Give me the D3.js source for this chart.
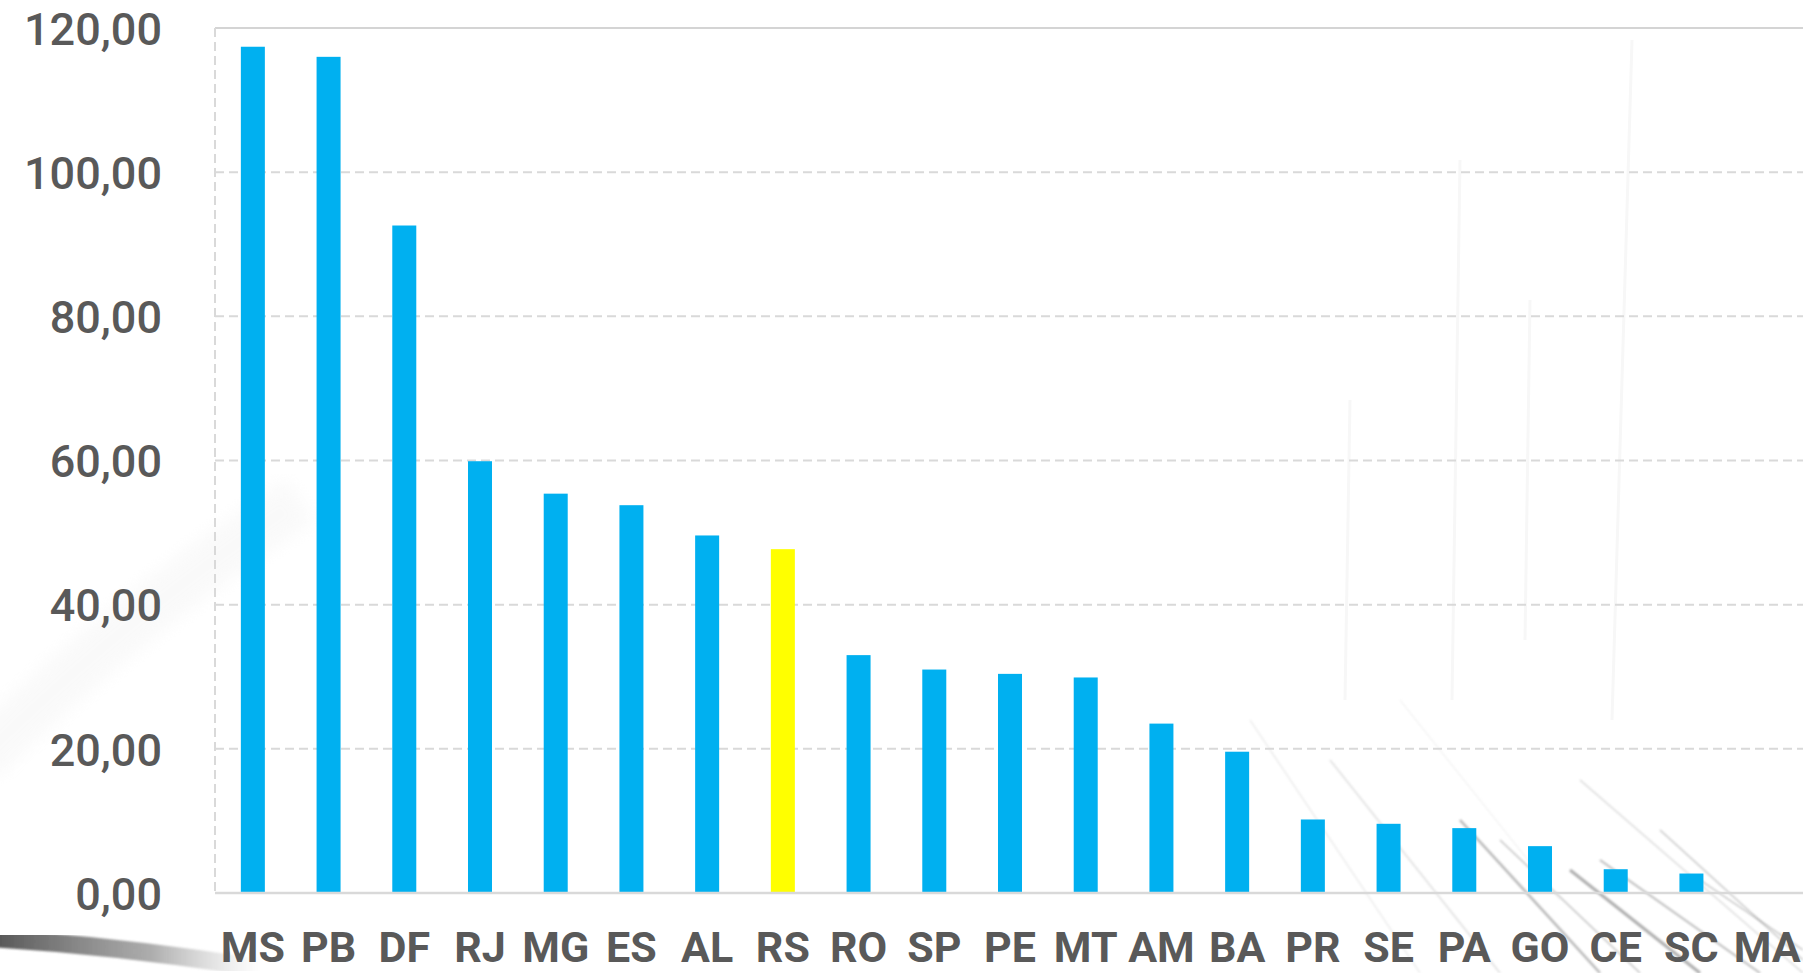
<!DOCTYPE html>
<html>
<head>
<meta charset="utf-8">
<script src="https://cdn.jsdelivr.net/npm/d3@7"></script>
<style>
  html, body { margin: 0; padding: 0; background: #ffffff; overflow: hidden; }
  svg { display: block; }
</style>
</head>
<body>
<div id="chart"></div>
<script>
// states, ordered as in the chart
const states = ["MS", "PB", "DF", "RJ", "MG", "ES", "AL", "RS", "RO", "SP", "PE",
  "MT", "AM", "BA", "PR", "SE", "PA", "GO", "CE", "SC", "MA"];

// value per state
const values = [117.4, 116.0, 92.6, 59.9, 55.4, 53.8, 49.6, 47.7, 33.0, 31.0, 30.4,
  29.9, 23.5, 19.6, 10.2, 9.6, 9.0, 6.5, 3.3, 2.7, 0];

const yTicks = [0, 20, 40, 60, 80, 100, 120];

// the highlighted state
const highlight = "RS";

const W = 1803, H = 973;
const margin = { top: 28, right: -2, bottom: 80, left: 215 };

const svg = d3.select("#chart")
  .append("svg")
  .attr("width", W)
  .attr("height", H);

// faint sketchy background strokes (decoration only)
const bg = svg.append("g").attr("class", "background");
const defs = svg.append("defs");
defs.append("filter").attr("id", "blur")
  .append("feGaussianBlur").attr("stdDeviation", 1);
defs.append("filter").attr("id", "blur2")
  .append("feGaussianBlur").attr("stdDeviation", 8);
const pen = defs.append("linearGradient").attr("id", "pen")
  .attr("x1", "0%").attr("x2", "100%");
pen.append("stop").attr("offset", "0%").attr("stop-color", "#4a4a4a").attr("stop-opacity", 0.95);
pen.append("stop").attr("offset", "60%").attr("stop-color", "#777").attr("stop-opacity", 0.6);
pen.append("stop").attr("offset", "100%").attr("stop-color", "#aaa").attr("stop-opacity", 0);

bg.append("path")
  .attr("d", "M-10,938 Q120,946 260,968")
  .attr("stroke", "url(#pen)").attr("stroke-width", 18).attr("fill", "none")
  .attr("filter", "url(#blur)");
bg.append("path")
  .attr("d", "M-20,760 Q120,620 300,500")
  .attr("stroke", "#f2f2f2").attr("stroke-width", 50).attr("fill", "none")
  .attr("filter", "url(#blur2)").attr("opacity", 0.4);

const sketch = [
  [1460, 820, 1600, 973, "#8a8a8a", 2.5], [1500, 840, 1640, 973, "#9a9a9a", 1.5],
  [1570, 870, 1700, 973, "#7a7a7a", 3], [1600, 860, 1760, 973, "#8f8f8f", 2],
  [1660, 830, 1803, 960, "#a0a0a0", 1.5], [1700, 880, 1803, 950, "#9a9a9a", 1.5],
  [1330, 760, 1500, 973, "#c8c8c8", 1.5], [1250, 720, 1420, 973, "#d6d6d6", 1.2],
  [1580, 780, 1803, 973, "#b8b8b8", 1.2], [1400, 700, 1560, 900, "#dedede", 1]
];
bg.selectAll("line.sketch")
  .data(sketch)
  .enter()
  .append("line")
  .attr("class", "sketch")
  .attr("x1", (d) => d[0]).attr("y1", (d) => d[1])
  .attr("x2", (d) => d[2]).attr("y2", (d) => d[3])
  .attr("stroke", (d) => d[4])
  .attr("stroke-width", (d) => d[5])
  .attr("opacity", 0.6)
  .attr("filter", "url(#blur)");
const faint = [[1632, 40, 1612, 720], [1460, 160, 1452, 700], [1350, 400, 1345, 700], [1530, 300, 1525, 640]];
bg.selectAll("line.faint")
  .data(faint)
  .enter()
  .append("line")
  .attr("class", "faint")
  .attr("x1", (d) => d[0]).attr("y1", (d) => d[1])
  .attr("x2", (d) => d[2]).attr("y2", (d) => d[3])
  .attr("stroke", "#f7f7f7").attr("stroke-width", 3);

// scales
const x = d3.scaleBand()
  .domain(states)
  .range([margin.left, W - margin.right])
  .paddingInner(0.683)
  .paddingOuter(0.3415);

const y = d3.scaleLinear()
  .domain([0, 120])
  .range([H - margin.bottom, margin.top]);

const ptBR = d3.formatLocale({ decimal: ",", thousands: ".", grouping: [3], currency: ["R$", ""] });
const fmt = ptBR.format(".2f");

// horizontal gridlines
svg.append("g")
  .selectAll("line")
  .data(yTicks.filter((t) => t > 0 && t < 120))
  .enter()
  .append("line")
  .attr("x1", margin.left)
  .attr("x2", W)
  .attr("y1", (d) => y(d))
  .attr("y2", (d) => y(d))
  .attr("stroke", "#d9d9d9")
  .attr("stroke-width", 2)
  .attr("stroke-dasharray", "9,5");

// top border (solid) and left dashed border
svg.append("line")
  .attr("x1", margin.left).attr("x2", W)
  .attr("y1", y(120)).attr("y2", y(120))
  .attr("stroke", "#d4d4d4").attr("stroke-width", 2);
svg.append("line")
  .attr("x1", margin.left).attr("x2", margin.left)
  .attr("y1", y(120)).attr("y2", y(0))
  .attr("stroke", "#d9d9d9").attr("stroke-width", 2)
  .attr("stroke-dasharray", "9,5");

// bars
svg.append("g")
  .selectAll("rect")
  .data(states.map((s, i) => ({ state: s, value: values[i] })))
  .enter()
  .append("rect")
  .attr("x", (d) => x(d.state))
  .attr("y", (d) => y(d.value))
  .attr("width", x.bandwidth())
  .attr("height", (d) => y(0) - y(d.value))
  .attr("fill", (d) => (d.state === highlight ? "#FFFF00" : "#00B0F0"));

// baseline
svg.append("line")
  .attr("x1", margin.left).attr("x2", W)
  .attr("y1", y(0)).attr("y2", y(0))
  .attr("stroke", "#d9d9d9").attr("stroke-width", 2.5);

// y axis labels
const yAxis = svg.append("g")
  .attr("transform", "translate(162,0)")
  .call(d3.axisLeft(y).tickValues(yTicks).tickFormat(fmt).tickSize(0).tickPadding(0));
yAxis.select(".domain").remove();
yAxis.selectAll("text")
  .attr("fill", "#595959")
  .attr("dy", "0.36em")
  .style("font-family", "Roboto, 'Liberation Sans', sans-serif")
  .style("font-size", "45px")
  .style("font-weight", "500");

// x axis labels
const xAxis = svg.append("g")
  .attr("transform", "translate(0," + y(0) + ")")
  .call(d3.axisBottom(x).tickSize(0).tickPadding(0));
xAxis.select(".domain").remove();
xAxis.selectAll("text")
  .attr("fill", "#595959")
  .attr("y", 69)
  .attr("dy", 0)
  .style("font-family", "Roboto, 'Liberation Sans', sans-serif")
  .style("font-size", "43px")
  .style("font-weight", "bold");
</script>
</body>
</html>
